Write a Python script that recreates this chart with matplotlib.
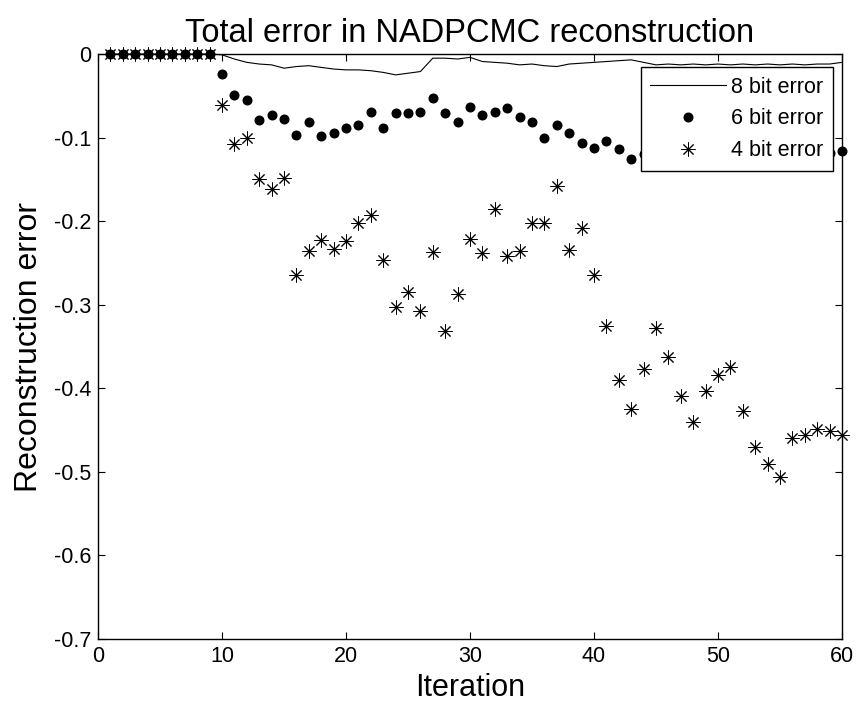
import matplotlib
matplotlib.use("Agg")
import matplotlib.pyplot as plt
import numpy as np

plt.rcParams['font.family'] = ['Liberation Sans', 'DejaVu Sans']
plt.rcParams['axes.unicode_minus'] = False

iterations = list(range(1, 61))

err_8bit = [0, 0, 0, 0, 0, 0, 0, 0, 0,
            -0.001, -0.006, -0.010, -0.012, -0.013, -0.017, -0.015, -0.014, -0.016, -0.018, -0.019,
            -0.019, -0.020, -0.022, -0.025, -0.023, -0.021, -0.005, -0.005, -0.006, -0.004,
            -0.009, -0.010, -0.011, -0.013, -0.012, -0.014, -0.015, -0.012, -0.011, -0.010,
            -0.009, -0.008, -0.007, -0.010, -0.013, -0.012, -0.013, -0.012, -0.013, -0.012,
            -0.013, -0.012, -0.013, -0.012, -0.013, -0.012, -0.013, -0.012, -0.012, -0.010]

err_6bit = [0, 0, 0, 0, 0, 0, 0, 0, 0,
            -0.024, -0.049, -0.055, -0.079, -0.073, -0.078, -0.097, -0.081, -0.098, -0.095, -0.088,
            -0.085, -0.069, -0.088, -0.071, -0.071, -0.069, -0.053, -0.071, -0.081, -0.063,
            -0.073, -0.069, -0.065, -0.075, -0.081, -0.100, -0.085, -0.094, -0.106, -0.112,
            -0.104, -0.114, -0.126, -0.120, -0.124, -0.118, -0.122, -0.125, -0.119, -0.121,
            -0.117, -0.123, -0.120, -0.118, -0.122, -0.119, -0.117, -0.121, -0.118, -0.116]

err_4bit = [0, 0, 0, 0, 0, 0, 0, 0, 0,
            -0.061, -0.108, -0.100, -0.150, -0.162, -0.148, -0.265, -0.236, -0.223, -0.233, -0.224,
            -0.202, -0.193, -0.246, -0.303, -0.285, -0.308, -0.237, -0.332, -0.287, -0.221,
            -0.238, -0.186, -0.242, -0.236, -0.202, -0.202, -0.158, -0.234, -0.208, -0.265,
            -0.326, -0.390, -0.425, -0.377, -0.328, -0.362, -0.409, -0.440, -0.403, -0.384,
            -0.374, -0.427, -0.470, -0.490, -0.506, -0.460, -0.456, -0.449, -0.451, -0.456]

xticks = [0, 10, 20, 30, 40, 50, 60]
yticks = [0, -0.1, -0.2, -0.3, -0.4, -0.5, -0.6, -0.7]
ytick_labels = ['0', '-0.1', '-0.2', '-0.3', '-0.4', '-0.5', '-0.6', '-0.7']

fig = plt.figure(figsize=(8.57, 7.09), dpi=100)
ax = fig.add_axes([98/857, 1 - 639/709, 744/857, 585/709])

ax.plot(iterations, err_8bit, '-', color='black', lw=0.8, label='8 bit error', clip_on=False)
ax.plot(iterations, err_6bit, 'o', color='black', ms=6.2, ls='none', label='6 bit error', clip_on=False)
ax.plot(iterations, err_4bit, marker=(8, 2, 0), color='black', ms=10, mew=0.7, ls='none',
        label='4 bit error', clip_on=False)

ax.set_xlim(0, 60)
ax.set_ylim(-0.7, 0)
ax.set_xticks(xticks)
ax.set_yticks(yticks)
ax.set_yticklabels(ytick_labels)
ax.tick_params(direction='in', length=5, width=0.8, top=True, right=True, labelsize=15.5, pad=5)
for s in ax.spines.values():
    s.set_linewidth(1.0)

ax.set_title('Total error in NADPCMC reconstruction', fontsize=23.5, pad=9)
ax.set_xlabel('Iteration', fontsize=22, labelpad=4)
ax.set_ylabel('Reconstruction error', fontsize=23, labelpad=7)

leg = ax.legend(loc='upper right', bbox_to_anchor=(0.988, 0.978), fontsize=15.5,
                frameon=True, fancybox=False, edgecolor='black', framealpha=1,
                handlelength=3.5, handletextpad=0.25, borderpad=0.45, labelspacing=0.5,
                borderaxespad=0, markerfirst=True)
leg.get_frame().set_linewidth(1.0)
leg.set_zorder(5)

fig.savefig('out.png', dpi=100)
